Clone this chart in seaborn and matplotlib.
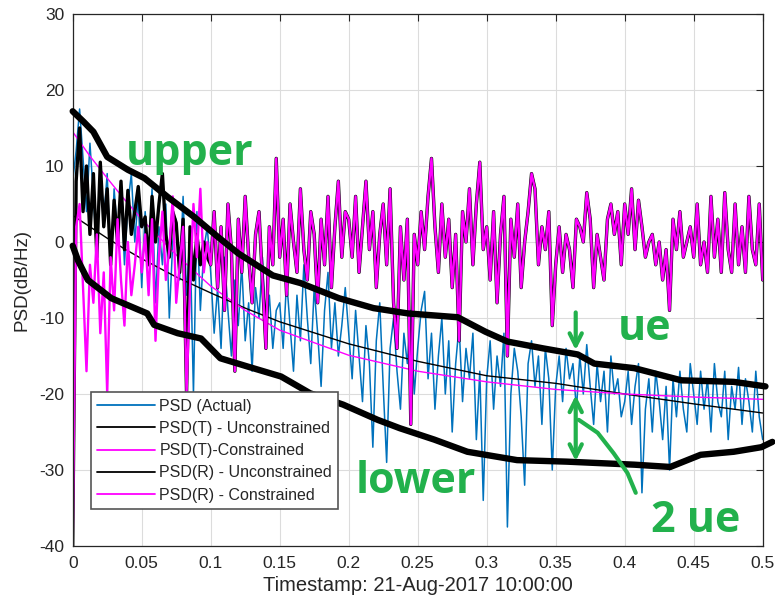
import matplotlib
matplotlib.use("Agg")
import matplotlib.pyplot as plt
import numpy as np
import seaborn as sns

# PSD (Actual), one row per 0.05 of timestamp, last value sits at 0.5
psd_actual = [
    8, 12, 17.5, 11, 4, 13, 6, -2, 10, 3, 9, -4, 7, 1, 8, -3, 5, 9, 0, 6,
    -6, 4, -2, 7, -8, 2, -3, 5, -10, 0, 3, -5, 6, -7, 1, -20, 4, -9, -1, 2,
    -4, -12, -6, -14, -2, -9, -15, -5, -11, -3, -13, -8, -17, -6, -10, -2, -12, -7, -14, -9,
    -8, -14, -5, -11, -17, -7, -13, -3, -10, -16, -6, -12, -19, -9, -4, -14, -8, -15, -11, -6,
    -12, -18, -9, -15, -21, -11, -16, -27, -13, -8, -19, -29, -14, -10, -17, -22, -12, -16, -9, -20,
    -14, -9, -6.5, -18, -12, -22, -15, -10, -20, -13, -25, -16, -11, -21, -14, -18, -12, -26, -17, -34,
    -18, -13, -22, -15, -19, -12, -37.5, -20, -14, -17, -23, -32, -16, -13, -19, -15, -24, -14, -18, -30,
    -19, -15, -21, -14, -18, -16, -22, -15, -20, -13.5, -19, -24, -16, -21, -17, -25, -15, -20, -18, -23,
    -21, -17, -24, -19, -16, -33, -22, -18, -25, -17, -21, -26, -19, -30, -18, -23, -17, -22, -25, -16,
    -20, -24, -17, -22, -18, -25, -16, -21, -23, -17, -26, -19, -22, -16.5, -24, -18, -21, -25, -17, -23,
    -26,
]

# PSD(R) - Constrained, same sampling as psd_actual
psd_r_con = [
    -40, 2, 5, -6, -17, -3, -8, 1, -12, -4, -20, -2, -9, 3, -5, -11, 0, -7, -3, 2,
    -4, 1, -7, 3, -13, -2, 4, -5, -1, 6, -8, -3, 2, -20, -6, 5, -2, 7, -4, 0,
    -3, 4, -6, 2, -9, 5, -1, -17, 3, -4, 6, -2, -8, 1, 4, -5, -14, 2, -3, 11,
    -2, 3, -7, 5, 0, -4, 7, -1, -5, 4, 1, -8, 3, -3, 6, -6, 2, 8, -2, 4,
    3, -2, 6, -4, 2, 8, -1, 4, -6, 1, 5, -3, 7, -8, -14, 2, -5, 3, -24, 1,
    -3, 4, -1, 6, 11, 2, -4, 5, -2, 3, -6, 1, -13, 4, 0, 7, -3, 5, 10.5, -1,
    2, -5, 4, -8, 1, 6, -15, 3, -2, 5, -6, 0, 4, 9, 7, -3, 2, -1, 4, -11,
    -3, 2, -4, 1, -1, -6, 3, 2, 0, 6.5, 3, -6, 1, -2, -5, 3, 5, 1, 4, -3,
    5, 1, 7, -1, 5.5, 2, -2, 0, 1, -3, 0, -5, -1, -9, 3, -1, 4, -2, 0, 2,
    -2, 5, -3, 0, -4, 6, -2, 3, -4, 6.5, -1, -4, 5, -3, 2, -4, 6, -1, -3, 5,
    -5,
]

# PSD(R) - Unconstrained below 0.1, after that it sits on the constrained one
psd_r_unc_head = [
    -40, 8, 15, 4, 10, 1, 9, -2, 10.5, 2, 7, -3, 5.5, 0, 8, -1, 6.8, 1, 4, 7.3,
    2, 3.3, -3, 6, 0, 5, 9, 1, -2, 4, 2.5, -4, 3, -20, 2, -5, 1, -3, 0, -2,
]

# smooth PSD(T) fits
fit_x = [0, 0.0125, 0.025, 0.0375, 0.05, 0.075, 0.1, 0.125, 0.15, 0.2, 0.25, 0.3, 0.35, 0.4, 0.45, 0.5]
psd_t_unc = [3.5, 2.0, 0.5, -0.9, -2.2, -4.6, -6.7, -8.7, -10.5, -13.4, -15.7, -17.6, -18.6, -20.0, -21.3, -22.5]
psd_t_con = [14.5, 11.3, 8.4, 5.6, 3.0, -1.7, -5.8, -9.0, -11.6, -14.9, -17.0, -18.4, -19.4, -20.0, -20.4, -20.7]

# hand drawn bounds
upper_x = [0.0, 0.008, 0.015, 0.025, 0.04, 0.052, 0.069, 0.088, 0.105, 0.12, 0.145, 0.165, 0.193,
           0.218, 0.243, 0.279, 0.299, 0.315, 0.341, 0.366, 0.378, 0.407, 0.441, 0.479, 0.502]
upper_y = [17.2, 15.8, 14.5, 11.2, 9.5, 8.4, 5.9, 3.3, 0.7, -1.5, -4.4, -5.4, -7.4,
           -8.7, -9.4, -9.9, -11.8, -13.1, -14.0, -14.8, -16.0, -16.6, -18.2, -18.4, -19.0]
lower_x = [0.0, 0.004, 0.011, 0.028, 0.054, 0.059, 0.076, 0.093, 0.107, 0.127, 0.151, 0.172, 0.196,
           0.221, 0.237, 0.262, 0.286, 0.322, 0.358, 0.407, 0.433, 0.455, 0.479, 0.499, 0.507]
lower_y = [-0.5, -2.5, -5.0, -7.4, -9.4, -10.9, -12.0, -12.7, -15.3, -16.4, -17.7, -19.9, -21.4,
           -23.4, -24.5, -26.0, -27.6, -28.7, -28.9, -29.3, -29.6, -28.0, -27.6, -27.0, -26.3]

series_labels = ["PSD (Actual)", "PSD(T) - Unconstrained", "PSD(T)-Constrained",
                 "PSD(R) - Unconstrained", "PSD(R) - Constrained"]
x_ticks = [0, 0.05, 0.1, 0.15, 0.2, 0.25, 0.3, 0.35, 0.4, 0.45, 0.5]
x_ticklabels = ["0", "0.05", "0.1", "0.15", "0.2", "0.25", "0.3", "0.35", "0.4", "0.45", "0.5"]
y_ticks = [-40, -30, -20, -10, 0, 10, 20, 30]

freq = np.linspace(0, 0.5, len(psd_actual))
psd_r_unc = psd_r_unc_head + psd_r_con[len(psd_r_unc_head):]

sns.set_theme(style="whitegrid")
plt.rcParams["font.family"] = ["Liberation Sans", "DejaVu Sans"]
plt.rcParams["axes.unicode_minus"] = False

text_col = "#262626"
green = "#22B14C"
magenta = "#FF00FF"

fig = plt.figure(figsize=(7.75, 6.07), dpi=100)
fig.patch.set_facecolor("white")
ax = fig.add_axes([72.7 / 775, 61 / 607, 690 / 775, 532 / 607])

sns.lineplot(x=freq, y=psd_actual, ax=ax, color="#0072BD", lw=1.1, label=series_labels[0])
sns.lineplot(x=fit_x, y=psd_t_unc, ax=ax, color="black", lw=1.0, label=series_labels[1])
sns.lineplot(x=fit_x, y=psd_t_con, ax=ax, color=magenta, lw=1.0, label=series_labels[2])
sns.lineplot(x=freq, y=psd_r_unc, ax=ax, color="black", lw=2.4, label=series_labels[3])
sns.lineplot(x=freq, y=psd_r_con, ax=ax, color=magenta, lw=1.7, label=series_labels[4])

# bounds drawn over everything, running a little past the axis edge
for bx, by in [(upper_x, upper_y), (lower_x, lower_y)]:
    sns.lineplot(x=bx, y=by, ax=ax, color="black", lw=4.6, sort=False,
                 clip_on=False, solid_capstyle="round", solid_joinstyle="round", zorder=5)

ax.set_xlim(0, 0.5)
ax.set_ylim(-40, 30)
ax.set_xticks(x_ticks)
ax.set_xticklabels(x_ticklabels)
ax.set_yticks(y_ticks)
ax.grid(True, color="#dcdcdc", lw=0.8)
for sp in ax.spines.values():
    sp.set_visible(True)
    sp.set_color(text_col)
    sp.set_linewidth(0.9)
ax.tick_params(direction="in", top=True, right=True, length=5, width=0.8,
               colors=text_col, labelsize=12.5, pad=7)
ax.tick_params(axis="y", pad=6)
ax.set_xlabel("Timestamp: 21-Aug-2017 10:00:00", fontsize=14.5, color=text_col, labelpad=4)
ax.set_ylabel("PSD(dB/Hz)", fontsize=13.5, color=text_col, labelpad=6)

handles, labels = ax.get_legend_handles_labels()
leg = ax.legend(handles[:5], labels[:5], loc="lower left", bbox_to_anchor=(0.026, 0.0695),
                borderaxespad=0, fontsize=11.5, frameon=True, fancybox=False,
                edgecolor="#555555", framealpha=1, handlelength=3.6, handletextpad=0.3,
                labelspacing=0.45, borderpad=0.4)
leg.get_frame().set_linewidth(1.2)
leg.set_zorder(10)
for line in leg.get_lines():
    line.set_linewidth(1.3)
for t in leg.get_texts():
    t.set_color(text_col)

# green hand annotations
note_font = dict(color=green, fontsize=31, fontweight="bold", family="Open Sans", va="baseline", zorder=6)
ax.text(0.0384, 10.1, "upper", **note_font)
ax.text(0.205, -33.0, "lower", **note_font)
ax.text(0.395, -12.9, "ue", **note_font)
ax.text(0.419, -38.2, "2 ue", **note_font)
ax.annotate("", xy=(0.3645, -14.6), xytext=(0.3645, -8.9),
            arrowprops=dict(arrowstyle="->", color=green, lw=3, mutation_scale=22), zorder=6)
ax.annotate("", xy=(0.3645, -29.2), xytext=(0.3645, -19.8),
            arrowprops=dict(arrowstyle="<->", color=green, lw=3, mutation_scale=22), zorder=6)
ax.plot([0.3667, 0.3804, 0.392, 0.402, 0.408], [-23.4, -25.1, -27.8, -30.4, -33.0],
        color=green, lw=3, solid_capstyle="round", zorder=6)

fig.savefig("out.png", dpi=100, facecolor="white")
